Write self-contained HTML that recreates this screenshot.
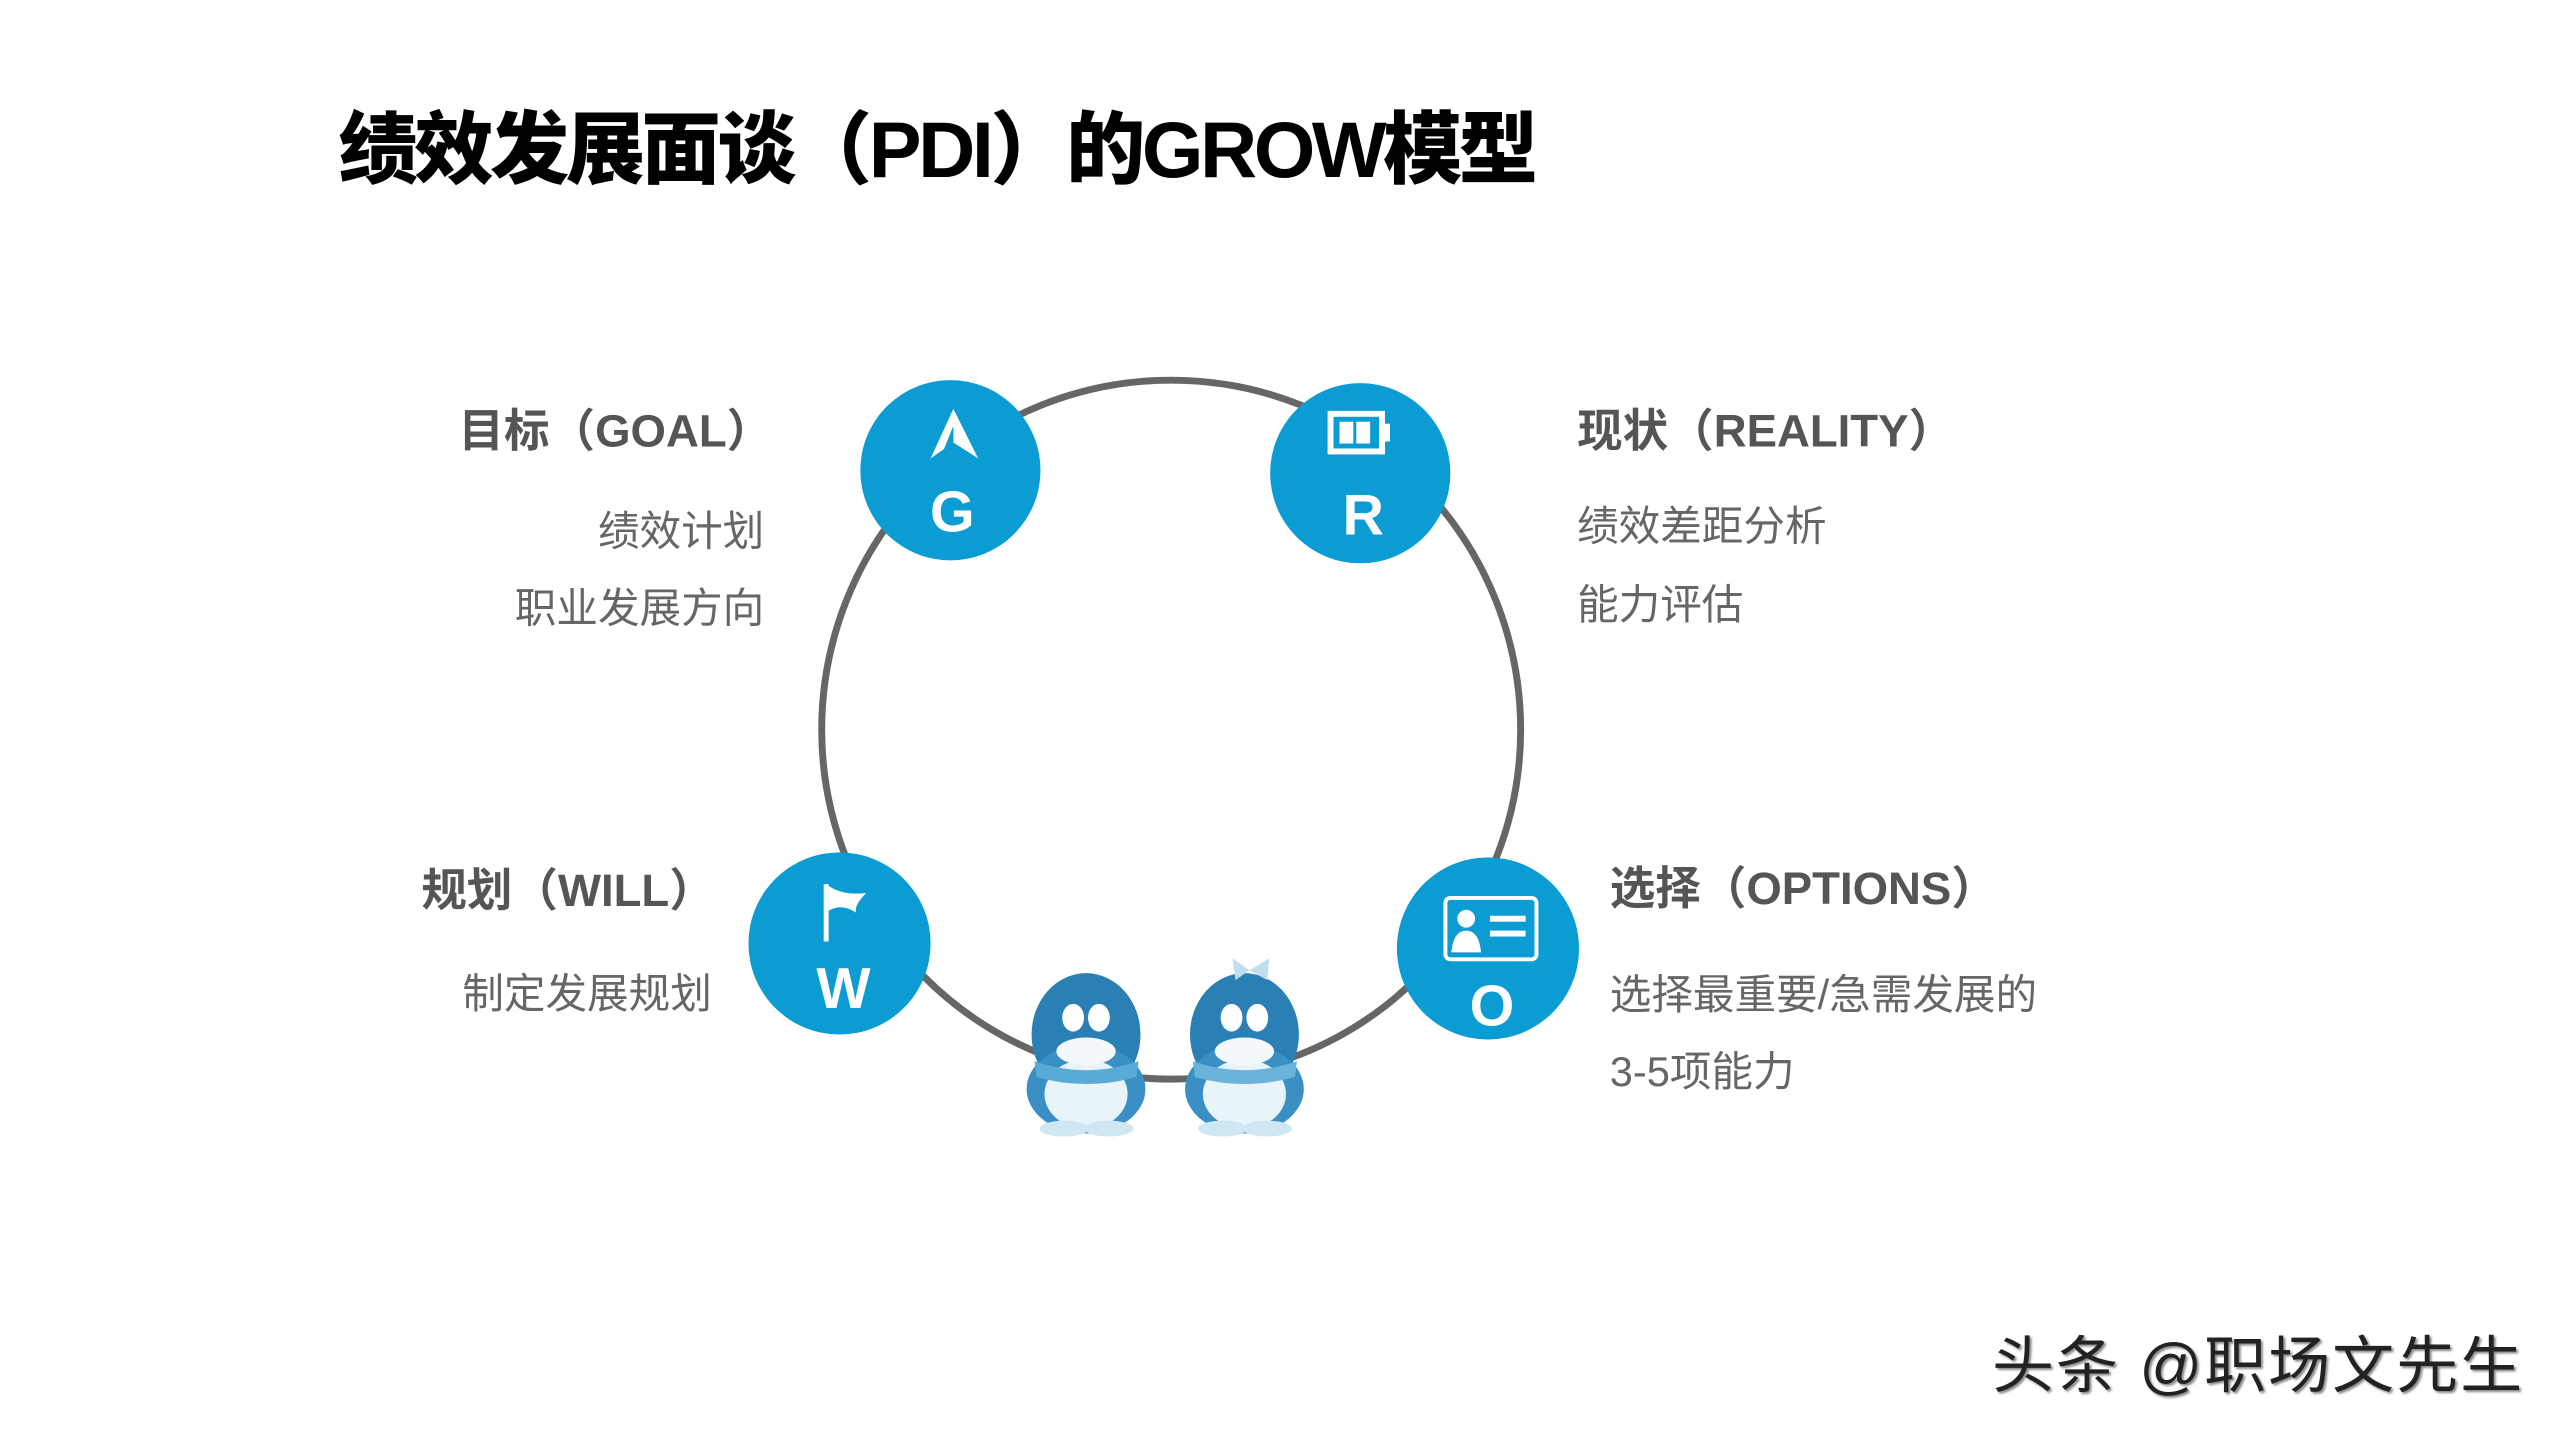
<!DOCTYPE html>
<html><head><meta charset="utf-8"><style>
html,body{margin:0;padding:0;background:#fff;}
body{width:2560px;height:1440px;position:relative;overflow:hidden;font-family:"Liberation Sans","Noto Sans CJK SC",sans-serif;}
#w{position:absolute;left:0;top:0;width:2560px;height:1440px;transform:scale(0.99);transform-origin:0 0;}
.t{position:absolute;white-space:nowrap;line-height:1;}
.h{font-weight:bold;color:#555;font-size:46px;}
.s{color:#666;font-size:42px;}
.r{text-align:right;}
</style></head><body>
<div id="w">
<div class="t" style="left:342px;top:112px;font-size:80px;font-weight:900;color:#000;letter-spacing:-3.5px;">绩效发展面谈（PDI）的GROW模型</div>

<svg width="2560" height="1440" style="position:absolute;left:0;top:0">
<circle cx="1183" cy="737" r="353" fill="none" stroke="#666" stroke-width="7"/>
<g fill="#0a9cd3">
<circle cx="960" cy="475" r="91"/>
<circle cx="1374" cy="478" r="91"/>
<circle cx="848" cy="953" r="92"/>
<circle cx="1503" cy="958" r="92"/>
</g>
<polygon points="963,413 940,463 963,447 988,463" fill="#fff"/>
<polygon points="963,430 953,455 963,447" fill="#0a9cd3"/>
<rect x="1344" y="418" width="52" height="38" fill="none" stroke="#fff" stroke-width="6"/>
<rect x="1396" y="428" width="8" height="18" fill="#fff"/>
<rect x="1353" y="426" width="14" height="22" fill="#fff"/>
<rect x="1370" y="426" width="14" height="22" fill="#fff"/>
<rect x="832" y="893" width="5" height="58" fill="#fff"/>
<path d="M837,895 Q852,905 875,902 Q862,915 865,922 Q850,912 837,920 Z" fill="#fff"/>
<rect x="1460" y="907" width="92" height="62" rx="5" fill="none" stroke="#fff" stroke-width="4"/>
<circle cx="1481" cy="928" r="9" fill="#fff"/>
<path d="M1466,962 Q1468,940 1481,940 Q1494,940 1496,962 Z" fill="#fff"/>
<rect x="1505" y="925" width="36" height="6" fill="#fff"/>
<rect x="1505" y="940" width="36" height="6" fill="#fff"/>
<g font-family="Liberation Sans" font-weight="bold" font-size="58" fill="#fff" text-anchor="middle">
<text x="962" y="537">G</text>
<text x="1377" y="540">R</text>
<text x="852" y="1018">W</text>
<text x="1507" y="1036">O</text>
</g>
<g>
<ellipse cx="1097" cy="1045" rx="55" ry="62" fill="#2a7fb4"/>
<ellipse cx="1097" cy="1100" rx="60" ry="45" fill="#3a8fc4"/>
<ellipse cx="1097" cy="1105" rx="42" ry="35" fill="#e8f3fa"/>
<ellipse cx="1097" cy="1062" rx="30" ry="14" fill="#f4f9fc"/>
<ellipse cx="1084" cy="1028" rx="11" ry="14" fill="#fff"/>
<ellipse cx="1110" cy="1028" rx="11" ry="14" fill="#fff"/>
<path d="M1045,1072 Q1097,1090 1150,1072 L1148,1088 Q1097,1102 1047,1088Z" fill="#5aaad6"/>
<ellipse cx="1075" cy="1140" rx="25" ry="8" fill="#cfe6f3"/>
<ellipse cx="1120" cy="1140" rx="25" ry="8" fill="#cfe6f3"/>
</g>
<g>
<ellipse cx="1257" cy="1045" rx="55" ry="62" fill="#2a7fb4"/>
<ellipse cx="1257" cy="1100" rx="60" ry="45" fill="#3a8fc4"/>
<ellipse cx="1257" cy="1105" rx="42" ry="35" fill="#e8f3fa"/>
<ellipse cx="1257" cy="1062" rx="30" ry="14" fill="#f4f9fc"/>
<ellipse cx="1244" cy="1028" rx="11" ry="14" fill="#fff"/>
<ellipse cx="1270" cy="1028" rx="11" ry="14" fill="#fff"/>
<path d="M1205,1072 Q1257,1090 1310,1072 L1308,1088 Q1257,1102 1207,1088Z" fill="#6ab4dc"/>
<path d="M1262,980 L1245,968 L1248,990Z M1262,980 L1282,968 L1280,990Z" fill="#bfdff0"/>
<ellipse cx="1235" cy="1140" rx="25" ry="8" fill="#cfe6f3"/>
<ellipse cx="1280" cy="1140" rx="25" ry="8" fill="#cfe6f3"/>
</g>
</svg>

<div class="t h r" style="right:1780px;top:412px;">目标（GOAL）</div>
<div class="t s r" style="right:1788px;top:516px;">绩效计划</div>
<div class="t s r" style="right:1788px;top:594px;">职业发展方向</div>

<div class="t h" style="left:1593px;top:412px;">现状（REALITY）</div>
<div class="t s" style="left:1593px;top:511px;">绩效差距分析</div>
<div class="t s" style="left:1593px;top:590px;">能力评估</div>

<div class="t h r" style="right:1838px;top:876px;">规划（WILL）</div>
<div class="t s r" style="right:1841px;top:983px;">制定发展规划</div>

<div class="t h" style="left:1626px;top:874px;">选择（OPTIONS）</div>
<div class="t s" style="left:1626px;top:984px;">选择最重要/急需发展的</div>
<div class="t s" style="left:1626px;top:1062px;">3-5项能力</div>
</div>

<div class="t" style="left:1992px;top:1336px;font-size:62px;color:#222;letter-spacing:2px;text-shadow:2px 2px 2px #888;">头条 @职场文先生</div>
</body></html>
